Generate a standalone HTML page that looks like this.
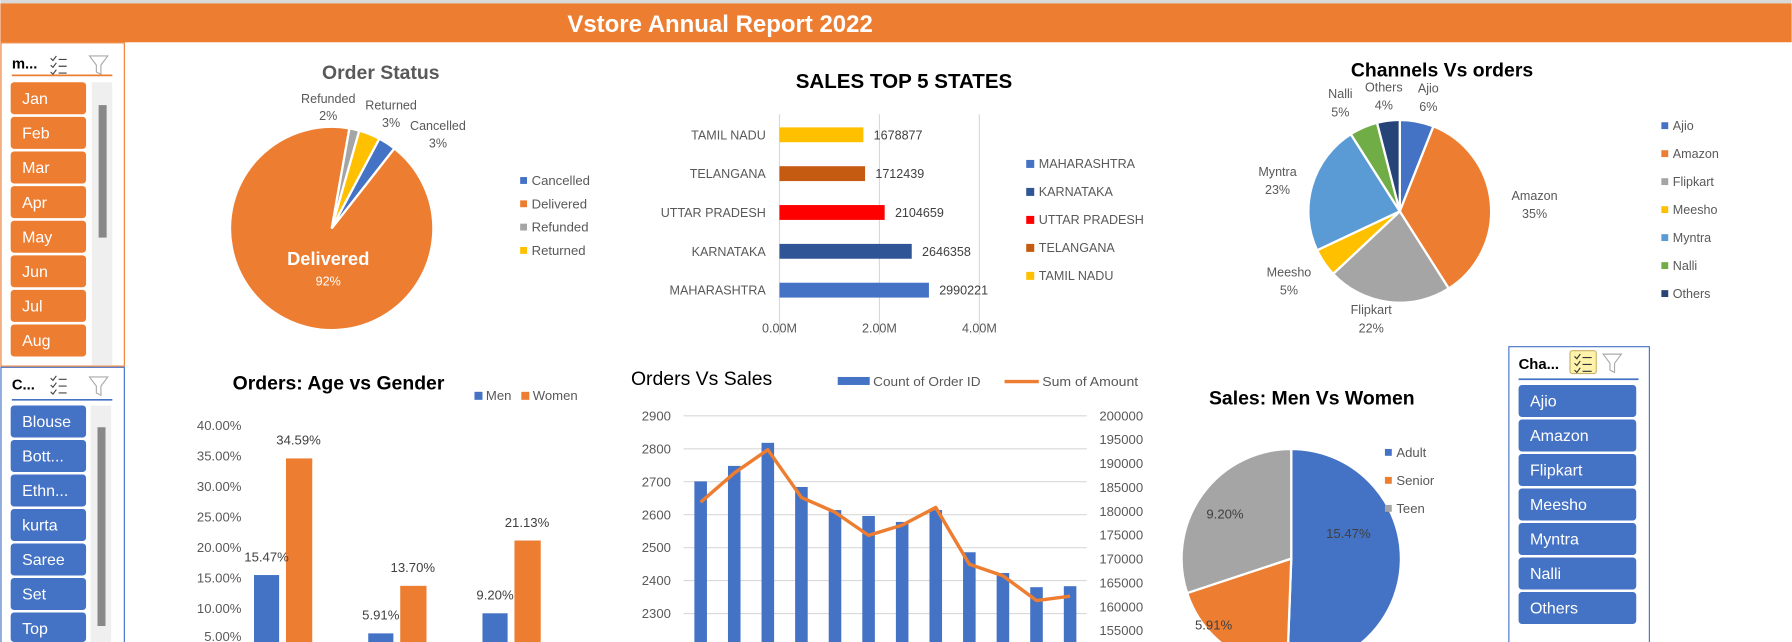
<!DOCTYPE html>
<html><head><meta charset="utf-8">
<style>
html,body{margin:0;padding:0;background:#fff;width:1792px;height:642px;overflow:hidden;}
svg{display:block;font-family:"Liberation Sans",sans-serif;}
</style></head>
<body>
<svg id="s" width="1792" height="642" viewBox="0 0 1568 562" xmlns="http://www.w3.org/2000/svg">
<rect x="0" y="0" width="1568" height="562" fill="#fff"/>
<rect x="0" y="0" width="1568" height="3" fill="#d9d9d9"/>
<rect x="0" y="3" width="1568" height="34" fill="#ED7D31"/>
<text x="630" y="28" text-anchor="middle" font-size="21" font-weight="bold" fill="#fff">Vstore Annual Report 2022</text>

<g>
<rect x="0.5" y="37.5" width="108" height="283" fill="#fff" stroke="#ED7D31"/>
<text x="10" y="60" font-size="13" font-weight="bold" fill="#000">m...</text>
<g stroke="#444" stroke-width="1" fill="none"><path d="M44 51l2 2 3-4M44 57l2 2 3-4M44 63l2 2 3-4M51 52h7M51 58h7M51 64h7"/></g>
<path d="M78 49h16l-6 8v8l-4-2v-6z" fill="none" stroke="#aaa"/>
<line x1="10" y1="66" x2="98" y2="66" stroke="#ED7D31" stroke-width="1.5"/>
<rect x="80" y="72" width="18" height="248" fill="#efefef"/>
<rect x="86" y="92" width="7" height="116" fill="#888"/>
<g id="months"></g>
</g>

<g>
<path d="M0.5 562V321.5H108.5V562" fill="#fff" stroke="#4472C4"/>
<text x="10" y="341" font-size="13" font-weight="bold" fill="#000">C...</text>
<g stroke="#444" stroke-width="1" fill="none"><path d="M44 331l2 2 3-4M44 337l2 2 3-4M44 343l2 2 3-4M51 332h7M51 338h7M51 344h7"/></g>
<path d="M78 330h16l-6 8v8l-4-2v-6z" fill="none" stroke="#aaa"/>
<line x1="10" y1="350" x2="98" y2="350" stroke="#4472C4" stroke-width="1.5"/>
<rect x="79" y="355" width="18" height="207" fill="#efefef"/>
<rect x="85" y="374" width="7" height="174" fill="#888"/>
<g id="cats"></g>
</g>

<g>
<path d="M1320.5 562V303.5H1443.5V562" fill="#fff" stroke="#4472C4"/>
<text x="1329" y="323" font-size="13" font-weight="bold" fill="#000">Cha...</text>
<rect x="1374" y="307" width="23" height="20" fill="#FFF2AB" stroke="#C9B36A" rx="2"/>
<path d="M1378 312l2 2 3-4M1378 318l2 2 3-4M1378 324l2 2 3-4M1385 313h8M1385 319h8M1385 325h8" stroke="#333" fill="none"/>
<path d="M1403 310h16l-6 8v8l-4-2v-6z" fill="none" stroke="#aaa"/>
<line x1="1329" y1="332" x2="1434" y2="332" stroke="#4472C4" stroke-width="1.5"/>
<g id="chans"></g>
</g>

<g id="orderStatus">
<text x="333" y="69" text-anchor="middle" font-size="17" font-weight="bold" fill="#595959">Order Status</text>
</g>
<g id="states">
<text x="791" y="77" text-anchor="middle" font-size="18" font-weight="bold" fill="#000">SALES TOP 5 STATES</text>
</g>
<g id="channels">
<text x="1262" y="67" text-anchor="middle" font-size="17" font-weight="bold" fill="#000">Channels Vs orders</text>
</g>
<g id="agegender">
<text x="296" y="341" text-anchor="middle" font-size="17" font-weight="bold" fill="#000">Orders: Age vs Gender</text>
</g>
<g id="ovs">
<text x="552" y="337" font-size="17" fill="#000">Orders Vs Sales</text>
</g>
<g id="mvw">
<text x="1148" y="354" text-anchor="middle" font-size="17" font-weight="bold" fill="#000">Sales: Men Vs Women</text>
</g>
</svg>
<script>
const NS="http://www.w3.org/2000/svg";
const months=["Jan","Feb","Mar","Apr","May","Jun","Jul","Aug"];
const categories=["Blouse","Bott...","Ethn...","kurta","Saree","Set","Top"];
const channelItems=["Ajio","Amazon","Flipkart","Meesho","Myntra","Nalli","Others"];

const statusLabels=["Refunded","Returned","Cancelled","Delivered"];
const statusValues=[1.6,3.4,2.8,92.2];
const statusPct=["2%","3%","3%","92%"];
const statusLegend=["Cancelled","Delivered","Refunded","Returned"];

const stateNames=["TAMIL NADU","TELANGANA","UTTAR PRADESH","KARNATAKA","MAHARASHTRA"];
const stateSales=[1678877,1712439,2104659,2646358,2990221];
const stateTicks=[0,2000000,4000000];
const stateTickLabels=["0.00M","2.00M","4.00M"];
const stateLegend=["MAHARASHTRA","KARNATAKA","UTTAR PRADESH","TELANGANA","TAMIL NADU"];

const channelNames=["Ajio","Amazon","Flipkart","Meesho","Myntra","Nalli","Others"];
const channelShare=[6,35,22,5,23,5,4];

const ageGroups=["Adult","Senior","Teen"];
const menShare=[15.47,5.91,9.20];
const womenShare=[34.59,13.70,21.13];
const ageTicks=[5,10,15,20,25,30,35,40];

const monthCounts=[2701,2748,2818,2684,2614,2596,2578,2614,2486,2423,2380,2383];
const monthAmount=[181900,188000,192900,182900,179800,174950,177100,180800,168900,166500,161300,162200];
const leftTicks=[2300,2400,2500,2600,2700,2800,2900];
const rightTicks=[155000,160000,165000,170000,175000,180000,185000,190000,195000,200000];

const mwLabels=["Adult","Senior","Teen"];
const mwValues=[15.47,5.91,9.20];

const BOTTOM=562;
function el(tag,attrs,parent,txt){const e=document.createElementNS(NS,tag);for(const k in attrs)e.setAttribute(k,attrs[k]);if(txt!==undefined)e.textContent=txt;parent.appendChild(e);return e;}
function pt(cx,cy,r,a){const t=(a-90)*Math.PI/180;return [cx+r*Math.cos(t),cy+r*Math.sin(t)];}
function arc(cx,cy,r,a0,a1){const p0=pt(cx,cy,r,a0),p1=pt(cx,cy,r,a1);const lg=(a1-a0)>180?1:0;return `M${cx},${cy}L${p0[0]},${p0[1]}A${r},${r} 0 ${lg} 1 ${p1[0]},${p1[1]}Z`;}
const G=id=>document.getElementById(id);

months.forEach((m,i)=>{const y=72+i*30.3;
 const r=el('rect',{x:9,y:y,width:66,height:28,rx:3,fill:'#ED7D31'},G('months'));
 
 
 el('text',{x:19,y:y+19,'font-size':14,fill:'#fff'},G('months'),m);});
categories.forEach((c,i)=>{const y=355+i*30.2;const h=Math.min(28,BOTTOM-y);
 const r=el('rect',{x:9,y:y,width:66,height:h,rx:3,fill:'#4472C4'},G('cats'));
 
 
 el('text',{x:19,y:y+19,'font-size':14,fill:'#fff'},G('cats'),c);});
channelItems.forEach((c,i)=>{const y=337+i*30.2;
 const r=el('rect',{x:1329,y:y,width:103,height:28,rx:3,fill:'#4472C4'},G('chans'));
 
 
 el('text',{x:1339,y:y+19,'font-size':14,fill:'#fff'},G('chans'),c);});

(function(){const g=G('orderStatus');const cx=290,cy=200,r=89;
 const cols={Refunded:'#A5A5A5',Returned:'#FFC000',Cancelled:'#4472C4',Delivered:'#ED7D31'};
 const lpos={Refunded:[287,90],Returned:[342,96],Cancelled:[383,114]};
 const tot=statusValues.reduce((a,b)=>a+b,0);let a=10;
 statusLabels.forEach((l,i)=>{const sw=statusValues[i]/tot*360;
  const p=el('path',{d:arc(cx,cy,r,a,a+sw),fill:cols[l],stroke:'#fff','stroke-width':2},g);
  
  
  if(l==='Delivered'){el('text',{x:287,y:232,'text-anchor':'middle','font-size':16,'font-weight':'bold',fill:'#fff'},g,l);
   el('text',{x:287,y:250,'text-anchor':'middle','font-size':11,fill:'#fff'},g,statusPct[i]);}
  else{const m=lpos[l];
   el('text',{x:m[0],y:m[1],'text-anchor':'middle','font-size':11,fill:'#595959'},g,l);
   el('text',{x:m[0],y:m[1]+15,'text-anchor':'middle','font-size':11,fill:'#595959'},g,statusPct[i]);}
  a+=sw;});
 statusLegend.forEach((l,i)=>{const y=160+i*20.4;
  const lr=el('rect',{x:455,y:y-5,width:6,height:6,fill:cols[l]},g);
  
  
  el('text',{x:465,y:y+2,'font-size':11.5,fill:'#595959'},g,l);});
})();

(function(){const g=G('states');const x0=682,k=87.5/2000000;
 const cols={"TAMIL NADU":'#FFC000',"TELANGANA":'#C55A11',"UTTAR PRADESH":'#FF0000',"KARNATAKA":'#2F5597',"MAHARASHTRA":'#4472C4'};
 const X=v=>x0+v*k;
 stateTicks.forEach((t,i)=>{el('line',{x1:X(t),y1:100,x2:X(t),y2:293,stroke:'#d9d9d9'},g);
  el('text',{x:X(t),y:291,'text-anchor':'middle','font-size':11,fill:'#595959'},g,stateTickLabels[i]);});
 stateNames.forEach((n,i)=>{const yc=118+i*34;
  const b=el('rect',{x:x0,y:yc-6.5,width:X(stateSales[i])-x0,height:13,fill:cols[n]},g);
  
  
  el('text',{x:670,y:yc+4,'text-anchor':'end','font-size':11,fill:'#595959'},g,n);
  el('text',{x:X(stateSales[i])+9,y:yc+4,'font-size':11,fill:'#404040'},g,String(stateSales[i]));});
 stateLegend.forEach((n,i)=>{const y=145+i*24.5;
  const lr=el('rect',{x:898,y:y-5,width:7,height:7,fill:cols[n]},g);
  
  
  el('text',{x:909,y:y+2,'font-size':11,fill:'#595959'},g,n);});
})();

(function(){const g=G('channels');const cx=1225,cy=185,r=80;
 const cols=['#4472C4','#ED7D31','#A5A5A5','#FFC000','#5B9BD5','#70AD47','#264478'];
 const lp=[[1250,77],[1343,171],[1200,271],[1128,238],[1118,150],[1173,82],[1211,76]];
 const tot=channelShare.reduce((a,b)=>a+b,0);let a=0;
 channelNames.forEach((n,i)=>{const sw=channelShare[i]/tot*360;
  const p=el('path',{d:arc(cx,cy,r,a,a+sw),fill:cols[i],stroke:'#fff','stroke-width':2},g);
  
  
  el('text',{x:lp[i][0],y:lp[i][1]+4,'text-anchor':'middle','font-size':11,fill:'#595959'},g,n);
  el('text',{x:lp[i][0],y:lp[i][1]+20,'text-anchor':'middle','font-size':11,fill:'#595959'},g,channelShare[i]+'%');
  a+=sw;
  const y=112+i*24.5;
  const lr=el('rect',{x:1454,y:y-5,width:6,height:6,fill:cols[i]},g);
  
  
  el('text',{x:1464,y:y+2,'font-size':11,fill:'#595959'},g,n);});
})();

(function(){const g=G('agegender');const y0=586,k=5.34;const Y=v=>y0-v*k;
 ageTicks.forEach(t=>{el('text',{x:211,y:Math.min(Y(t)+4,561),'text-anchor':'end','font-size':11.5,fill:'#595959'},g,t.toFixed(2)+'%');});
 ageGroups.forEach((a,i)=>{const gx=222+i*100;
  const m=el('rect',{x:gx,y:Y(menShare[i]),width:22,height:BOTTOM-Y(menShare[i]),fill:'#4472C4'},g);
  
  
  const w=el('rect',{x:gx+28,y:Y(womenShare[i]),width:23,height:BOTTOM-Y(womenShare[i]),fill:'#ED7D31'},g);
  
  
  el('text',{x:gx+11,y:Y(menShare[i])-12,'text-anchor':'middle','font-size':11.5,fill:'#404040'},g,menShare[i].toFixed(2)+'%');
  el('text',{x:gx+39,y:Y(womenShare[i])-12,'text-anchor':'middle','font-size':11.5,fill:'#404040'},g,womenShare[i].toFixed(2)+'%');});
 const l1=el('rect',{x:415,y:343,width:7,height:7,fill:'#4472C4'},g);
 
 
 el('text',{x:425,y:350,'font-size':11.5,fill:'#595959'},g,'Men');
 const l2=el('rect',{x:456,y:343,width:7,height:7,fill:'#ED7D31'},g);
 
 
 el('text',{x:466,y:350,'font-size':11.5,fill:'#595959'},g,'Women');
})();

(function(){const g=G('ovs');
 const YL=v=>364+(2900-v)*0.2885;const YR=v=>364+(200000-v)*0.004178;
 const X=i=>613+i*29.4;
 leftTicks.forEach(t=>{el('line',{x1:598,y1:YL(t),x2:951,y2:YL(t),stroke:'#d9d9d9'},g);
  el('text',{x:587,y:YL(t)+4,'text-anchor':'end','font-size':11.5,fill:'#595959'},g,String(t));});
 rightTicks.forEach(t=>{el('text',{x:962,y:YR(t)+4,'font-size':11.5,fill:'#595959'},g,String(t));});
 monthCounts.forEach((v,i)=>{const b=el('rect',{x:X(i)-5.5,y:YL(v),width:11,height:BOTTOM-YL(v),fill:'#4472C4'},g);
  
  });
 const d=monthAmount.map((v,i)=>(i?'L':'M')+X(i)+','+YR(v)).join('');
 const ln=el('path',{d:d,fill:'none',stroke:'#ED7D31','stroke-width':3,'stroke-linejoin':'round'},g);
 
 
 const l1=el('rect',{x:733,y:330,width:28,height:7,fill:'#4472C4'},g);
 
 
 el('text',{x:764,y:338,'font-size':11.5,fill:'#595959',textLength:94,lengthAdjust:'spacingAndGlyphs'},g,'Count of Order ID');
 const l2=el('line',{x1:879,y1:334,x2:909,y2:334,stroke:'#ED7D31','stroke-width':3},g);
 
 
 el('text',{x:912,y:338,'font-size':11.5,fill:'#595959',textLength:84,lengthAdjust:'spacingAndGlyphs'},g,'Sum of Amount');
})();

(function(){const g=G('mvw');const cx=1130,cy=489,r=96;
 const cols=['#4472C4','#ED7D31','#A5A5A5'];const lp=[[1180,471],[1062,551],[1072,454]];
 const tot=mwValues.reduce((a,b)=>a+b,0);let a=0;
 mwLabels.forEach((n,i)=>{const sw=mwValues[i]/tot*360;
  const p=el('path',{d:arc(cx,cy,r,a,a+sw),fill:cols[i],stroke:'#fff','stroke-width':2},g);
  
  
  el('text',{x:lp[i][0],y:lp[i][1],'text-anchor':'middle','font-size':11.5,fill:'#404040'},g,mwValues[i].toFixed(2)+'%');
  a+=sw;
  const y=398+i*24.5;
  const lr=el('rect',{x:1212,y:y-5,width:6,height:6,fill:cols[i]},g);
  
  
  el('text',{x:1222,y:y+2,'font-size':11.5,fill:'#595959'},g,n);});
})();
</script>
</body></html>
